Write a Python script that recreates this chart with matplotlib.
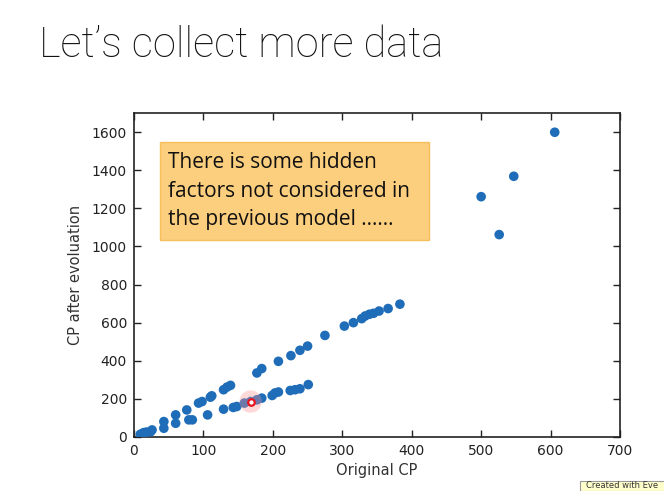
import matplotlib
matplotlib.use("Agg")
import matplotlib.pyplot as plt
from matplotlib.patches import Rectangle

# Data
orig_cp = [9, 12, 14, 18, 24, 26, 43, 60, 79, 84, 106, 129, 143, 148, 159, 168,
           177, 184, 199, 203, 208, 225, 232, 239, 251,
           43, 60, 76, 93, 98, 110, 112, 129, 134, 139, 177, 184, 208, 226, 239,
           250, 275, 303, 316, 328, 333, 339, 345, 353, 366, 383,
           500, 526, 547, 606]
evolved_cp = [14, 18, 23, 26, 28, 37, 46, 72, 90, 90, 116, 146, 155, 160, 178, 186,
              195, 204, 218, 231, 236, 244, 248, 253, 275,
              81, 116, 142, 178, 186, 209, 216, 248, 262, 271, 336, 359, 397, 427, 455,
              477, 533, 582, 600, 621, 635, 644, 649, 661, 674, 697,
              1261, 1062, 1368, 1599]
highlight = (168, 186)

x_ticks = [0, 100, 200, 300, 400, 500, 600, 700]
y_ticks = [0, 200, 400, 600, 800, 1000, 1200, 1400, 1600]

title = "Let\u2019s collect more data"
note = "There is some hidden\nfactors not considered in\nthe previous model \u2026\u2026"

fig = plt.figure(figsize=(6.64, 4.91), dpi=100)
fig.patch.set_facecolor("white")

ax = fig.add_axes([134/664, 1-437/491, (620-134)/664, (437-113)/491])
ax.scatter(orig_cp, evolved_cp, s=48, color="#1f6db8", edgecolors="none", zorder=3)
# highlighted point (glow + red ring)
ax.scatter([highlight[0]], [highlight[1]], s=260, color="#ff9090", alpha=0.35,
           edgecolors="none", zorder=4)
ax.scatter([highlight[0]], [highlight[1]], s=22, facecolors="white",
           edgecolors="#e8141e", linewidths=1.6, zorder=5)

ax.set_xlim(0, 700)
ax.set_ylim(0, 1700)
ax.set_xticks(x_ticks)
ax.set_yticks(y_ticks)
ax.tick_params(direction="in", top=True, right=True, length=5, width=1,
               labelsize=10, colors="#222222", pad=5)
for sp in ax.spines.values():
    sp.set_linewidth(1.2)
    sp.set_color("#222222")
ax.set_xlabel("Original CP", fontsize=10.5, color="#333333", labelpad=4)
ax.set_ylabel("CP after evoluation", fontsize=10.5, color="#333333", labelpad=6)

# Title
fig.text(39/664, 1-57/491, title, fontsize=30, family=["Roboto", "DejaVu Sans"],
         fontweight="light", va="baseline", ha="left", color="#111111")

# Annotation box
fig.patches.append(Rectangle((160/664, 1-240/491), (429-160)/664, (240-142)/491,
                             transform=fig.transFigure, facecolor="#fccf7e",
                             edgecolor="#f6bf5c", linewidth=1, zorder=6))
fig.text(168/664, 1-191/491, note, fontsize=15, family=["Open Sans", "DejaVu Sans"],
         va="center", ha="left", color="#111111", linespacing=1.48, zorder=7)

# Corner badge
fig.patches.append(Rectangle((580/664, 0), 90/664, 10/491, transform=fig.transFigure,
                             facecolor="#ffffcc", edgecolor="#999999", linewidth=0.8,
                             zorder=6))
fig.text(586/664, 1/491, "Created with Eve", fontsize=6, color="#333333",
         va="bottom", ha="left", zorder=7)

fig.savefig("out.png", dpi=100)
